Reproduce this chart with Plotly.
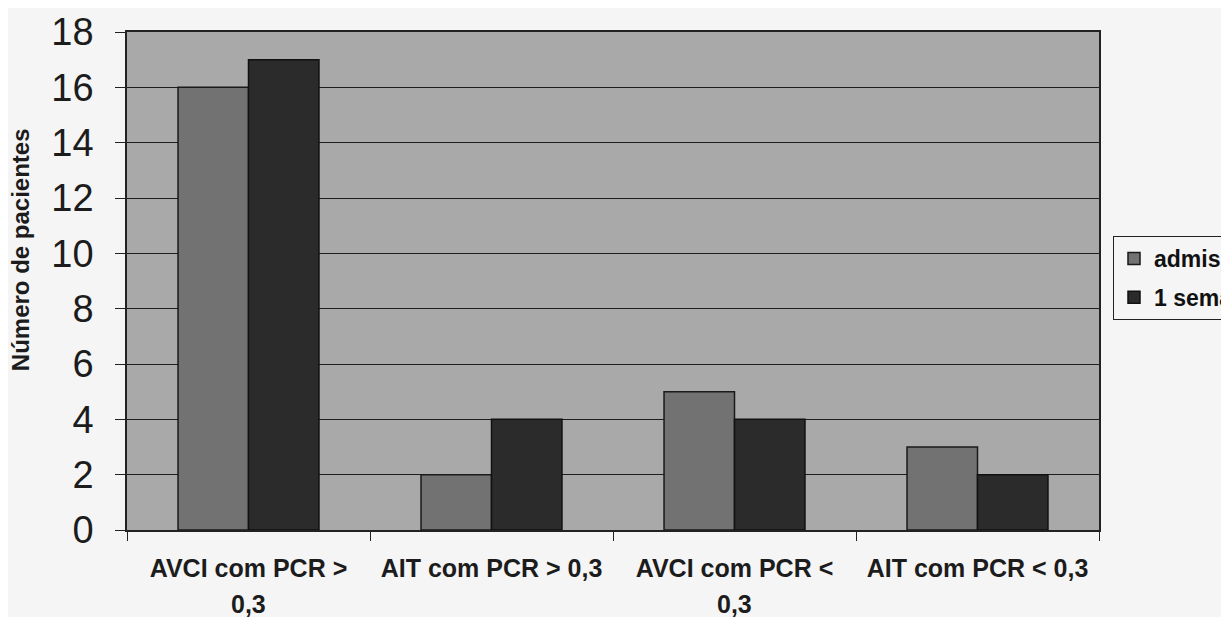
import plotly.graph_objects as go

categories_line1 = ["AVCI com PCR >", "AIT com PCR > 0,3", "AVCI com PCR <", "AIT com PCR < 0,3"]
categories_line2 = ["0,3", "", "0,3", ""]
admissao = [16, 2, 5, 3]
semana1 = [17, 4, 4, 2]
series_names = ["admissão", "1 semana"]
y_ticks = [0, 2, 4, 6, 8, 10, 12, 14, 16, 18]
y_title = "Número de pacientes"

FONT = "Liberation Sans, Arial, sans-serif"
TXT = "#1c1c1c"

fig = go.Figure()
fig.add_trace(go.Bar(x=categories_line1, y=admissao, name=series_names[0], legendgroup="a",
                     marker=dict(color="#727272", line=dict(color="#1a1a1a", width=1.5))))
fig.add_trace(go.Bar(x=categories_line1, y=semana1, name=series_names[1], legendgroup="b",
                     marker=dict(color="#2b2b2b", line=dict(color="#111111", width=1.5))))

for cat, second in zip(categories_line1, categories_line2):
    if second:
        fig.add_annotation(x=cat, y=0, xref="x", yref="y", text=second, showarrow=False,
                           yanchor="middle", yshift=-74,
                           font=dict(size=25, family=FONT, color=TXT, weight="bold"))

fig.add_annotation(x=-0.110, y=0.562, xref="paper", yref="paper", text=y_title,
                   showarrow=False, textangle=-90, xanchor="center", yanchor="middle",
                   font=dict(size=24, family=FONT, color=TXT, weight="bold"))

fig.update_layout(
    width=1221, height=609,
    margin=dict(l=119, r=130, t=24, b=87, autoexpand=False),
    paper_bgcolor="#f5f5f5",
    plot_bgcolor="#a9a9a9",
    barmode="group",
    bargap=0.42,
    bargroupgap=0,
    font=dict(family=FONT, color=TXT),
    showlegend=True,
    legend=dict(x=1.0144, y=0.506, xanchor="left", yanchor="middle",
                bordercolor="#222222", borderwidth=1, bgcolor="rgba(0,0,0,0)",
                font=dict(size=23, family=FONT, color="#111111", weight="bold"),
                tracegroupgap=6),
    xaxis=dict(type="category", tickson="boundaries", ticks="outside", ticklen=9,
               tickcolor="#222222", showline=True, linecolor="#222222", linewidth=1.5,
               mirror=True, showgrid=False, ticklabelstandoff=15,
               tickfont=dict(size=25, color=TXT, weight="bold")),
    yaxis=dict(range=[0, 18], tickvals=y_ticks, ticks="outside", ticklen=10,
               tickcolor="#222222", showline=True, linecolor="#222222", linewidth=1.5,
               mirror=True, showgrid=True, gridcolor="#1e1e1e", gridwidth=1,
               zeroline=False, ticklabelstandoff=14,
               tickfont=dict(size=38, color=TXT)),
)

fig.write_html("out.html")
